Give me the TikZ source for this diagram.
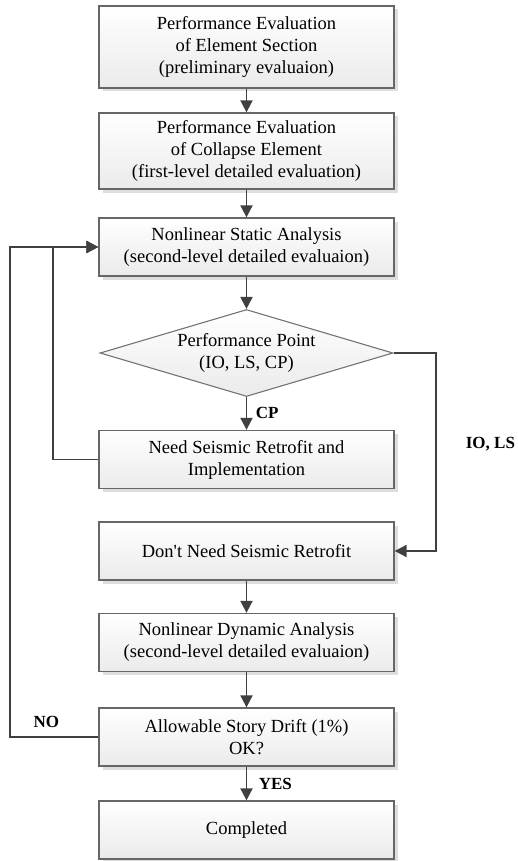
\documentclass[tikz,border=0pt]{standalone}
\usepackage{fontspec}
\setmainfont{Liberation Serif}
\usetikzlibrary{shapes.geometric,arrows.meta,positioning,shadows}

\begin{document}
\begin{tikzpicture}[x=1pt, y=-1pt, on grid, auto,
    every node/.style={font=\fontsize{18.5}{22}\selectfont},
    stepbox/.style={draw=black!60, line width=1.3pt, top color=white, bottom color=black!8,
      minimum width=295pt, minimum height=58pt, align=center, inner sep=2pt,
      drop shadow={shadow xshift=3.5pt, shadow yshift=-3.5pt, fill=black!13, opacity=1}},
    decision/.style={diamond, draw=black!55, line width=1.1pt, top color=white, bottom color=black!8,
      aspect=3.37, inner sep=0pt, minimum width=293pt, minimum height=87pt, align=center},
    flow/.style={draw=black!75, line width=1.9pt, -{Triangle[length=12pt,width=12pt]}},
    tag/.style={font=\bfseries\fontsize{17}{20}\selectfont}]
  \useasboundingbox (0,0) rectangle (517,861);

  \node[stepbox, minimum height=82pt] (section) at (246.5,47)
    {Performance Evaluation\\of Element Section\\(preliminary evaluaion)};
  \node[stepbox, minimum height=76pt, below=104pt of section] (collapse)
    {Performance Evaluation\\of Collapse Element\\(first-level detailed evaluation)};
  \node[stepbox, below=96pt of collapse] (static)
    {Nonlinear Static Analysis\\(second-level detailed evaluaion)};
  \node[decision, below=106pt of static] (point) {Performance Point\\(IO, LS, CP)};
  \node[stepbox, below=106.5pt of point] (retrofit) {Need Seismic Retrofit and\\Implementation};
  \node[stepbox, below=91.5pt of retrofit] (noretrofit) {Don\textquotesingle t Need Seismic Retrofit};
  \node[stepbox, below=91.5pt of noretrofit] (dynamic)
    {Nonlinear Dynamic Analysis\\(second-level detailed evaluaion)};
  \node[stepbox, below=94.5pt of dynamic] (drift) {Allowable Story Drift (1\%)\\OK?};
  \node[stepbox, below=93pt of drift] (done) {Completed};

  % main line
  \draw[flow] (section) -- (collapse);
  \draw[flow] (collapse) -- (static);
  \draw[flow] (static) -- (point);
  \draw[flow] (point) -- node[tag, anchor=west, xshift=5pt] {CP} (retrofit);
  \draw[flow] (noretrofit) -- (dynamic);
  \draw[flow] (dynamic) -- (drift);
  \draw[flow] (drift) -- node[tag, anchor=west, xshift=8pt] {YES} (done);

  % loops back and side branch
  \draw[flow] (retrofit.west) -- ([xshift=-45pt]retrofit.west) |- (static.west);
  \draw[flow] (drift.west) -- node[tag, anchor=south, yshift=5pt, xshift=-8pt] {NO}
    ([xshift=-88pt]drift.west) |- (static.west);
  \draw[flow] (point.east) -- ([xshift=42pt]point.east)
    |- node[tag, pos=0.23, anchor=west, xshift=26pt] {IO, LS} (noretrofit.east);
\end{tikzpicture}
\end{document}
